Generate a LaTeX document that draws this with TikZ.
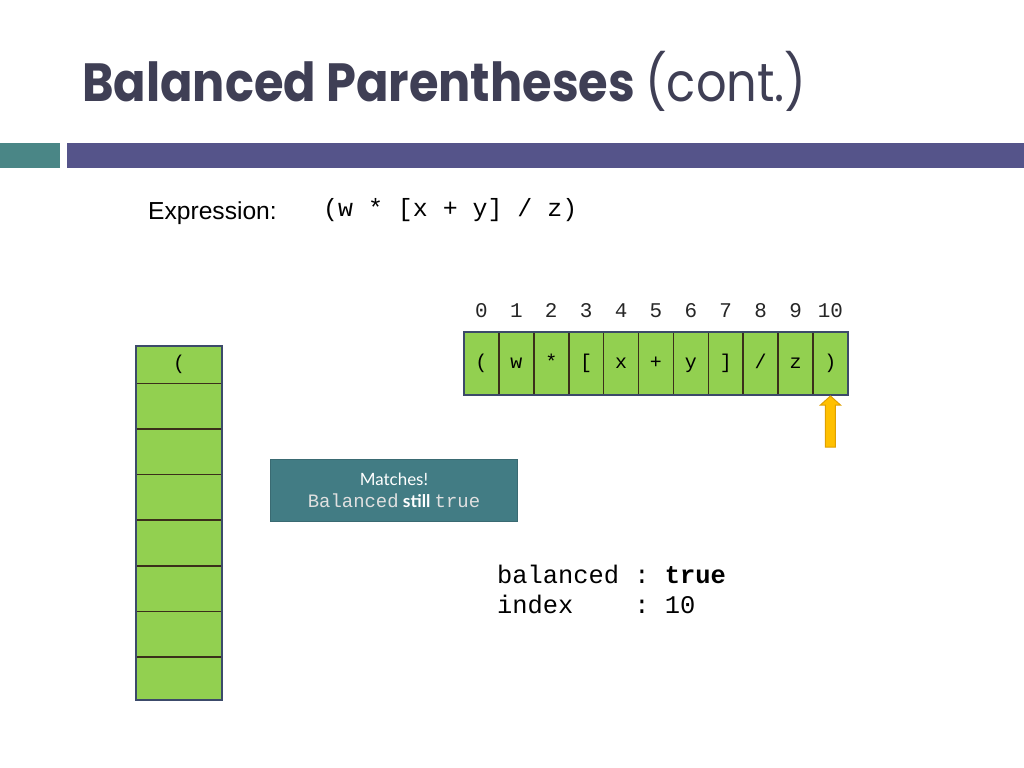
\documentclass[tikz,border=0pt]{standalone}
\usepackage{fontspec}
\setmainfont{Liberation Sans}
\setmonofont{Liberation Mono}
\newfontfamily\titlefont{Poppins}
\newfontfamily\boxfont{Lato}
\usetikzlibrary{calc}
\definecolor{cellgreen}{HTML}{92D050}
\definecolor{titlegray}{HTML}{3F3F55}
\definecolor{barteal}{HTML}{4A8686}
\definecolor{barpurple}{HTML}{55548A}
\definecolor{boxteal}{HTML}{427C84}
\definecolor{boxedge}{HTML}{3A6A72}
\definecolor{slate}{HTML}{3C4A6A}
\definecolor{divider}{HTML}{3B2F1A}
\definecolor{arrowfill}{HTML}{FFC000}
\definecolor{arrowedge}{HTML}{E0A000}
\definecolor{lightgray}{HTML}{E0E0E0}
\tikzset{
  arrcell/.style={draw=divider, line width=1.6bp, fill=cellgreen, minimum width=34.9bp, minimum height=63bp, inner sep=0pt, outer sep=0pt, text height=12bp, text depth=3bp, font=\fontsize{20}{20}\ttfamily},
  idx/.style={font=\fontsize{21}{21}\ttfamily, text=black!85, inner sep=0pt, anchor=base},
  stk/.style={draw=divider, line width=1.6bp, fill=cellgreen, minimum width=86.6bp, inner sep=0pt, outer sep=0pt, font=\fontsize{20}{20}\ttfamily},
  monotxt/.style={font=\fontsize{25.5}{30}\ttfamily, inner sep=0pt, anchor=base west},
}
\begin{document}
\begin{tikzpicture}[x=1bp,y=-1bp]
\useasboundingbox (0,0) rectangle (1024,768);
\fill[white] (0,0) rectangle (1024,768);
% title
\node[anchor=base west, inner sep=0pt, text=titlegray, xscale=0.89, transform shape] (title) at (82,102)
  {\titlefont\fontsize{54}{54}\selectfont\bfseries Balanced Parentheses \mdseries(cont.)};
% bars
\fill[barteal] (0,143) rectangle (60,168);
\fill[barpurple] (67,143) rectangle (1024,168);
% expression
\node[anchor=base west, inner sep=0pt, font=\fontsize{24.7}{24}\selectfont] (exlabel) at (148,219) {Expression:};
\node[anchor=base west, inner sep=0pt, font=\fontsize{25}{24}\ttfamily] (expr) at (323,216) {(w * [x + y] / z)};
% array
\foreach \i/\ch in {0/(,1/w,2/*,3/[,4/x,5/+,6/y,7/],8/{/},9/z,10/)} {
  \node[arrcell] (c\i) at ({464+34.9/2+34.9*\i},363.5) {\ch};
  \node[idx] (n\i) at ($(c\i.north)+(0,-15)$) {\i};
}
\draw[slate, line width=2bp] (c0.north west) rectangle (c10.south east);
% arrow
\filldraw[fill=arrowfill, draw=arrowedge, line width=1bp]
  ($(c10.south)+(0,1)$) -- ++(10,9) -- ++(-5,0) -- ++(0,42) -- ++(-10,0) -- ++(0,-42) -- ++(-5,0) -- cycle;
% stack
\node[stk, minimum height=37.6bp] (s1) at (179,364.5) {(};
\foreach \j [evaluate=\j as \yy using {383.3+45.6*(\j-2)+22.8}] in {2,...,7} {
  \node[stk, minimum height=45.6bp] (s\j) at (179,\yy) {};
}
\node[stk, minimum height=43bp, anchor=north] (s8) at (s7.south) {};
\draw[slate, line width=2bp] (s1.north west) rectangle (s8.south east);
% message box
\node[draw=boxedge, line width=1.5bp, fill=boxteal, minimum width=247bp, minimum height=62bp, inner sep=0pt, align=center, text=white] (msg) at (394,490.3)
  {{\boxfont\fontsize{17}{17}\selectfont Matches!}\\[6.5bp]
   {\fontsize{19}{19}\ttfamily\color{lightgray}Balanced}{\boxfont\bfseries\fontsize{17.5}{17}\selectfont\ still }{\fontsize{19}{19}\ttfamily\color{lightgray}true}};
% status
\node[monotxt] (bal) at (497,583) {balanced : \textbf{true}};
\node[monotxt] (ind) at (497,613) {index~~~~: 10};
\end{tikzpicture}
\end{document}
